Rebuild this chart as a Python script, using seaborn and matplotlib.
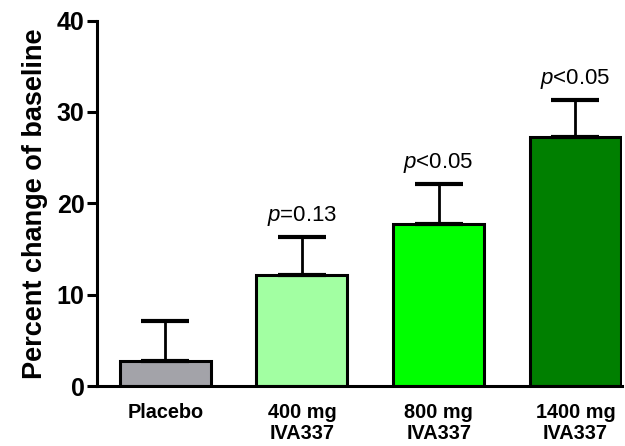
import matplotlib
matplotlib.use("Agg")
import matplotlib.pyplot as plt
import seaborn as sns
import pandas as pd
import numpy as np

categories = ["Placebo", "400 mg\nIVA337", "800 mg\nIVA337", "1400 mg\nIVA337"]
means = [2.7, 12.2, 17.7, 27.2]
errors = [4.4, 4.1, 4.4, 4.1]
p_labels = ["", "=0.13", "<0.05", "<0.05"]
colors = ["#A3A3A9", "#A2FFA2", "#00FF00", "#007F00"]
yticks = [0, 10, 20, 30, 40]

sns.set_theme(style="ticks")
plt.rcParams["font.family"] = ["Liberation Sans", "DejaVu Sans"]
plt.rcParams["mathtext.fontset"] = "custom"
plt.rcParams["mathtext.rm"] = "Liberation Sans"
plt.rcParams["mathtext.it"] = "Liberation Sans:italic"
plt.rcParams["text.color"] = "black"
plt.rcParams["axes.labelcolor"] = "black"
plt.rcParams["xtick.color"] = "black"
plt.rcParams["ytick.color"] = "black"

df = pd.DataFrame({"group": categories, "value": means})

fig = plt.figure(figsize=(6.25, 4.46), dpi=100)
ax = fig.add_axes([0.155, 0.1345, 0.84, 0.8195])

sns.barplot(data=df, x="group", y="value", hue="group", palette=colors,
            order=categories, hue_order=categories, legend=False, saturation=1,
            width=0.665, edgecolor="black", linewidth=2.2, ax=ax, errorbar=None)

xs = np.arange(len(categories))
ax.errorbar(xs, means, yerr=[np.zeros(len(means)), errors], fmt="none",
            ecolor="black", elinewidth=2.0, capsize=17, capthick=3.0, zorder=1)

for x, m, e, lab in zip(xs, means, errors, p_labels):
    if lab:
        ax.text(x, m + e + 1.0, r"$\mathit{p}$" + lab, ha="center", va="bottom",
                fontsize=16, color="black")

ax.set_xlim(-0.5, 3.34)
ax.set_ylim(0, 40)
ax.set_yticks(yticks)
ax.set_yticklabels([str(t) for t in yticks], fontsize=18, fontweight="bold")
ax.set_xlabel("")
ax.set_ylabel("Percent change of baseline", fontsize=19.5, fontweight="bold", labelpad=6)
for lbl in ax.get_xticklabels():
    lbl.set_fontweight("bold")
    lbl.set_fontsize(14.3)
    lbl.set_linespacing(1.15)
ax.tick_params(axis="x", length=0, pad=12)
ax.tick_params(axis="y", length=7, width=2.2, pad=2)
sns.despine(ax=ax)
for s in ["left", "bottom"]:
    ax.spines[s].set_linewidth(2.2)
    ax.spines[s].set_color("black")

fig.savefig("out.png", dpi=100)
